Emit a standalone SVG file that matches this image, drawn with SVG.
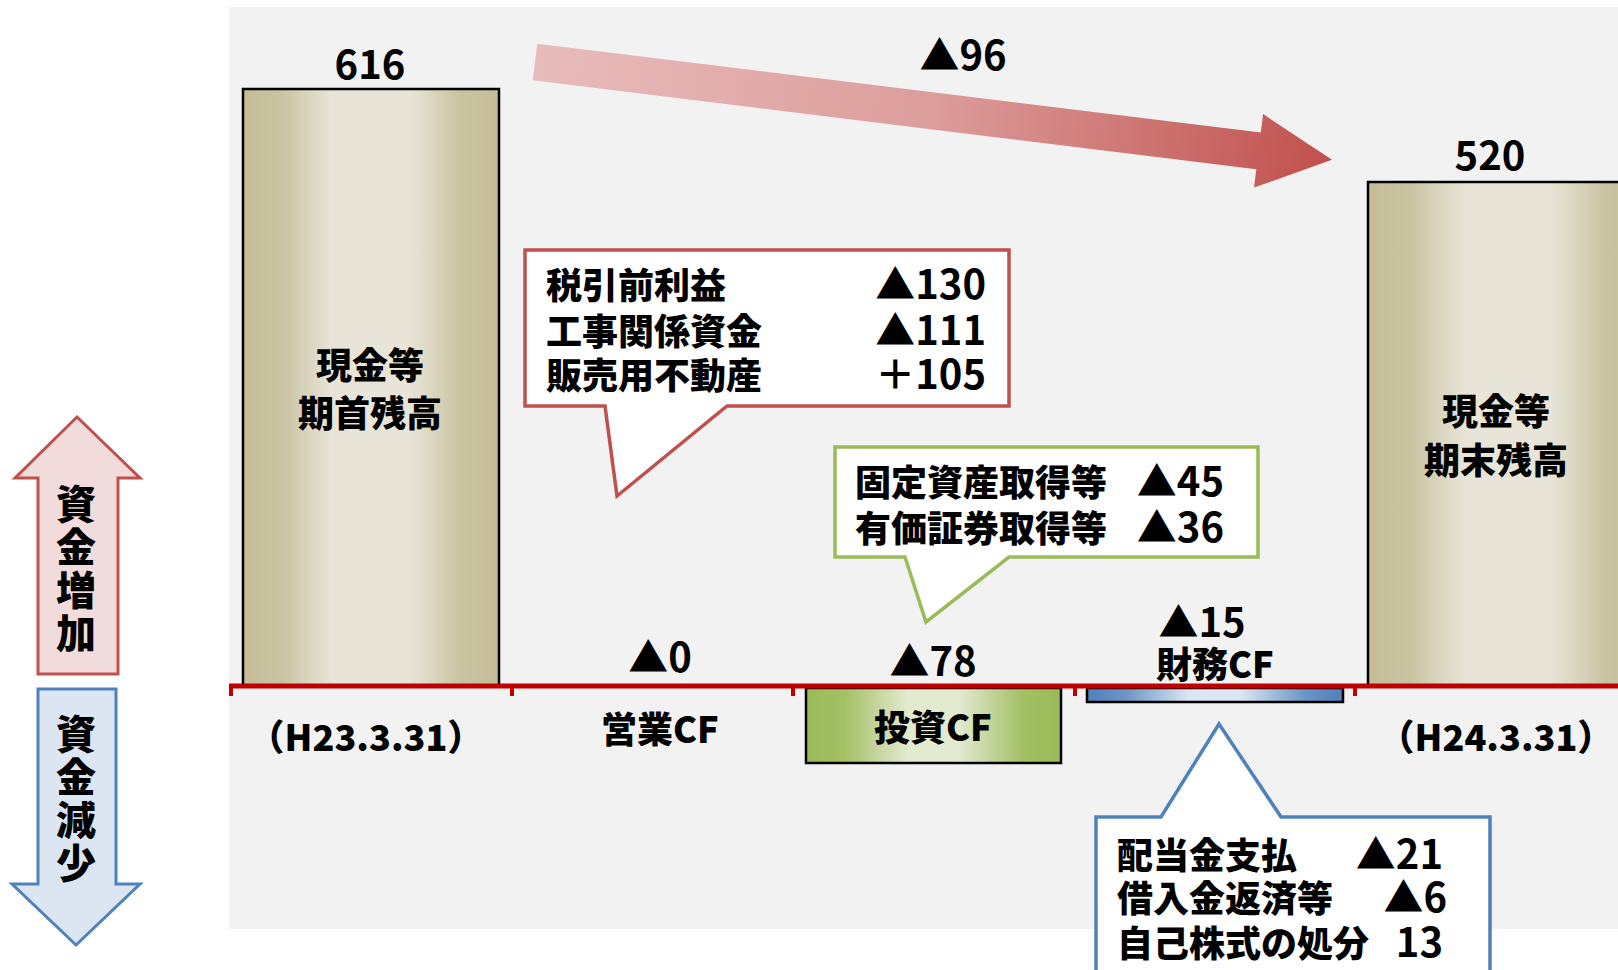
<svg xmlns="http://www.w3.org/2000/svg" width="1618" height="970" viewBox="0 0 1618 970">
<style>
.t{font-family:"Noto Sans CJK JP","Liberation Sans",sans-serif;font-weight:900;fill:#000;font-size:36px}
.n{font-family:"Noto Sans CJK JP","Liberation Sans",sans-serif;font-weight:700;fill:#000;font-size:40px}
.v{font-family:"Noto Sans CJK JP",sans-serif;font-weight:900;fill:#000;font-size:40px;writing-mode:vertical-rl;letter-spacing:3px}
.m{text-anchor:middle}
.e{text-anchor:end}
.bar{stroke:#000;stroke-width:2.5}
</style>
<defs>
<linearGradient id="gBar" x1="0" y1="0" x2="1" y2="0">
<stop offset="0" stop-color="#c4bd97"/><stop offset="0.15" stop-color="#c9c3a1"/><stop offset="0.35" stop-color="#e8e5d8"/><stop offset="0.65" stop-color="#e8e5d8"/><stop offset="0.85" stop-color="#c9c3a1"/><stop offset="1" stop-color="#c4bd97"/>
</linearGradient>
<linearGradient id="gGreen" x1="0" y1="0" x2="1" y2="0">
<stop offset="0" stop-color="#9bbb59"/><stop offset="0.15" stop-color="#a3c065"/><stop offset="0.4" stop-color="#e2ead0"/><stop offset="0.6" stop-color="#e2ead0"/><stop offset="0.85" stop-color="#a3c065"/><stop offset="1" stop-color="#9bbb59"/>
</linearGradient>
<linearGradient id="gBlue" x1="0" y1="0" x2="1" y2="0">
<stop offset="0" stop-color="#4f81bd"/><stop offset="0.15" stop-color="#6b95c7"/><stop offset="0.4" stop-color="#dce6f2"/><stop offset="0.6" stop-color="#dce6f2"/><stop offset="0.85" stop-color="#6b95c7"/><stop offset="1" stop-color="#4f81bd"/>
</linearGradient>
<linearGradient id="gArrow" x1="0" y1="0" x2="803" y2="0" gradientUnits="userSpaceOnUse">
<stop offset="0" stop-color="#e8bcbb"/><stop offset="0.5" stop-color="#dc9d9b"/><stop offset="1" stop-color="#c0504d"/>
</linearGradient>
</defs>

<rect id="background" x="229" y="7" width="1389" height="922" fill="#f2f2f2"/>

<g id="legend-increase">
<path d="M77,417 L140,478 L118,478 L118,674 L38,674 L38,478 L15,478 Z" fill="#f2dcdb" stroke="#c0504d" stroke-width="3"/>
<text class="v" x="76" y="484">資金増加</text>
</g>
<g id="legend-decrease">
<path d="M38,689 L116,689 L116,884 L140,884 L76,945 L12,884 L38,884 Z" fill="#dce6f2" stroke="#4f81bd" stroke-width="3"/>
<text class="v" x="76" y="714">資金減少</text>
</g>

<g id="bar-start">
<rect class="bar" x="243" y="89" width="256" height="597" fill="url(#gBar)"/>
<text class="n m" x="370" y="79">616</text>
<text class="t m"><tspan x="370" y="379">現金等</tspan><tspan x="370" y="427">期首残高</tspan></text>
</g>

<g id="bar-end">
<rect class="bar" x="1368" y="182" width="280" height="504" fill="url(#gBar)"/>
<text class="n m" x="1490" y="170">520</text>
<text class="t m"><tspan x="1496" y="425">現金等</tspan><tspan x="1496" y="474">期末残高</tspan></text>
</g>

<g id="bar-invest">
<rect class="bar" x="806" y="688" width="255" height="75" fill="url(#gGreen)"/>
<text class="t m" x="933" y="741">投資CF</text>
</g>

<g id="bar-finance">
<rect class="bar" x="1087" y="688" width="256" height="14" fill="url(#gBlue)"/>
</g>

<g id="connectors">
<line x1="229" y1="686" x2="1618" y2="686" stroke="#c00000" stroke-width="5"/>
<g stroke="#c00000" stroke-width="4">
<line x1="231" y1="686" x2="231" y2="696"/>
<line x1="512" y1="686" x2="512" y2="696"/>
<line x1="793" y1="686" x2="793" y2="696"/>
<line x1="1075" y1="686" x2="1075" y2="696"/>
<line x1="1355" y1="686" x2="1355" y2="696"/>
</g>
<g id="big-arrow" transform="translate(535,62) rotate(7)">
<path d="M0,-18.5 L729,-18.5 L729,-37 L803,0 L729,37 L729,18.5 L0,18.5 Z" fill="url(#gArrow)"/>
</g>
</g>

<g id="labels">
<text class="n m" x="963" y="70">▲96</text>
<text class="n m" x="660" y="672">▲0</text>
<text class="n m" x="933" y="676">▲78</text>
<text class="m"><tspan class="n" x="1202" y="637">▲15</tspan><tspan class="t" x="1215" y="678">財務CF</tspan></text>
<text class="t m" x="660" y="743">営業CF</text>
<text class="t m" x="366" y="751">（H23.3.31）</text>
<text class="t m" x="1496" y="751">（H24.3.31）</text>
</g>

<g id="callout-operating">
<path d="M525,250 L1009,250 L1009,406 L727,406 L617,496 L605,406 L525,406 Z" fill="#fff" stroke="#c0504d" stroke-width="3.5"/>
<text class="t"><tspan x="546" y="299">税引前利益</tspan><tspan x="546" y="345">工事関係資金</tspan><tspan x="546" y="389">販売用不動産</tspan></text>
<text class="n e"><tspan x="986" y="299">▲130</tspan><tspan x="986" y="345">▲111</tspan><tspan x="986" y="389">＋105</tspan></text>
</g>

<g id="callout-investing">
<path d="M835,447 L1258,447 L1258,557 L1009,557 L926,622 L905,557 L835,557 Z" fill="#fff" stroke="#9bbb59" stroke-width="3.5"/>
<text class="t"><tspan x="855" y="496">固定資産取得等</tspan><tspan x="855" y="542">有価証券取得等</tspan></text>
<text class="n e"><tspan x="1224" y="496">▲45</tspan><tspan x="1224" y="542">▲36</tspan></text>
</g>

<g id="callout-financing">
<path d="M1096,817 L1161,817 L1219,724 L1281,817 L1490,817 L1490,980 L1096,980 Z" fill="#fff" stroke="#4f81bd" stroke-width="3.5"/>
<text class="t"><tspan x="1117" y="869">配当金支払</tspan><tspan x="1117" y="912">借入金返済等</tspan><tspan x="1117" y="957">自己株式の処分</tspan></text>
<text class="n e"><tspan x="1443" y="869">▲21</tspan><tspan x="1447" y="912">▲6</tspan><tspan x="1443" y="957">13</tspan></text>
</g>
</svg>
